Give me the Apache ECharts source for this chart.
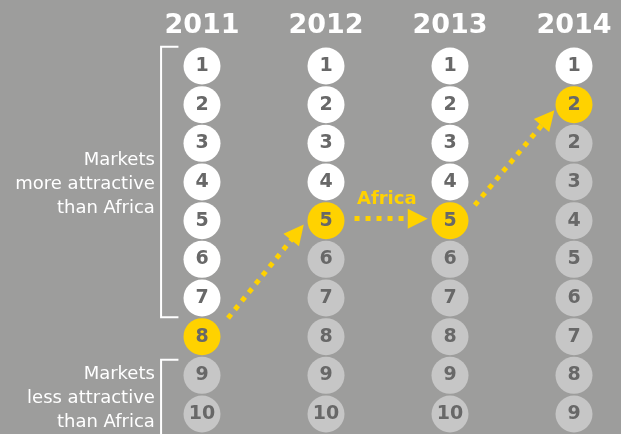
<!DOCTYPE html>
<html style="height: 100%">
<head>
  <meta charset="utf-8">
  <script src="https://cdn.jsdelivr.net/npm/echarts@6/dist/echarts.min.js"></script>
</head>
<body style="height: 100%; margin: 0; background: #9d9d9c">
  <div id="main" style="width: 621px; height: 434px"></div>
  <script type="text/javascript">
    // rankings shown in each year's column (row 1..10)
    var years = ['2011', '2012', '2013', '2014'];
    var ranks2011 = [1, 2, 3, 4, 5, 6, 7, 8, 9, 10];
    var ranks2012 = [1, 2, 3, 4, 5, 6, 7, 8, 9, 10];
    var ranks2013 = [1, 2, 3, 4, 5, 6, 7, 8, 9, 10];
    var ranks2014 = [1, 2, 2, 3, 4, 5, 6, 7, 8, 9];
    var africaRow = [8, 5, 5, 2];
    // arrows [x0, y0, x1, y1] in axis units (column index, row)
    var arrows = [
      [0.21, 7.52, 0.77, 5.3],
      [1.23, 4.95, 1.74, 4.95],
      [2.2, 4.6, 2.79, 2.34]
    ];

    var YELLOW = '#ffd200';
    var allRanks = [ranks2011, ranks2012, ranks2013, ranks2014];
    var points = [];
    allRanks.forEach(function (col, i) {
      col.forEach(function (r, j) {
        var row = j + 1;
        var fill = row < africaRow[i] ? '#ffffff' : (row === africaRow[i] ? YELLOW : '#c6c6c6');
        points.push({ value: [i, row, r], itemStyle: { color: fill, opacity: 1 } });
      });
    });

    var myChart = echarts.init(document.getElementById('main'));
    var option = {
      backgroundColor: '#9d9d9c',
      animation: false,
      grid: { left: 202, right: 47, top: 66, bottom: 20 },
      xAxis: {
        type: 'value', min: 0, max: 3, interval: 1, position: 'top',
        axisLine: { show: false }, axisTick: { show: false }, splitLine: { show: false },
        axisLabel: {
          margin: 27, color: '#ffffff', fontSize: 27, fontWeight: 'bold',
          fontFamily: 'DejaVu Sans',
          formatter: function (v) { return years[v]; }
        }
      },
      yAxis: {
        type: 'value', min: 1, max: 10, inverse: true, show: false
      },
      series: [{
        type: 'scatter',
        clip: false,
        symbol: 'circle',
        symbolSize: 37,
        itemStyle: { opacity: 1 },
        data: points,
        label: {
          show: true, position: 'inside',
          formatter: function (p) { return p.value[2]; },
          color: '#686868', fontSize: 19, fontWeight: 'bold', fontFamily: 'DejaVu Sans'
        }
      }, {
        type: 'lines',
        coordinateSystem: 'cartesian2d',
        symbol: ['none', 'triangle'],
        symbolSize: [18, 20],
        lineStyle: { color: YELLOW, width: 5, type: [5, 6], opacity: 1, cap: 'butt' },
        data: arrows.map(function (a) {
          return { coords: [[a[0], a[1]], [a[2], a[3]]] };
        })
      }]
    };
    myChart.setOption(option);

    function px(x, y) { return myChart.convertToPixel({ gridIndex: 0 }, [x, y]); }
    var bx = px(-0.33, 1)[0], tx = px(-0.19, 1)[0], textX = px(-0.38, 1)[0];
    var top1 = px(0, 0.5)[1], bot1 = px(0, 7.5)[1], top2 = px(0, 8.6)[1], bot2 = px(0, 10.6)[1];
    var lbl = px(1.49, 4.45);
    var stroke = { stroke: '#ffffff', lineWidth: 2, fill: null };
    var textStyle = { fill: '#ffffff', font: '18px "DejaVu Sans"', align: 'right', verticalAlign: 'middle', lineHeight: 24 };
    myChart.setOption({
      graphic: [
        { type: 'polyline', shape: { points: [[tx, top1], [bx, top1], [bx, bot1], [tx, bot1]] }, style: stroke },
        { type: 'polyline', shape: { points: [[tx, top2], [bx, top2], [bx, bot2]] }, style: stroke },
        { type: 'text', x: textX, y: px(0, 4.05)[1], style: Object.assign({ text: 'Markets\nmore attractive\nthan Africa' }, textStyle) },
        { type: 'text', x: textX, y: px(0, 9.6)[1], style: Object.assign({ text: 'Markets\nless attractive\nthan Africa' }, textStyle) },
        { type: 'text', x: lbl[0], y: lbl[1], style: { text: 'Africa', fill: YELLOW, font: 'bold 18px "DejaVu Sans"', align: 'center', verticalAlign: 'middle' } }
      ]
    });
  </script>
</body>
</html>
